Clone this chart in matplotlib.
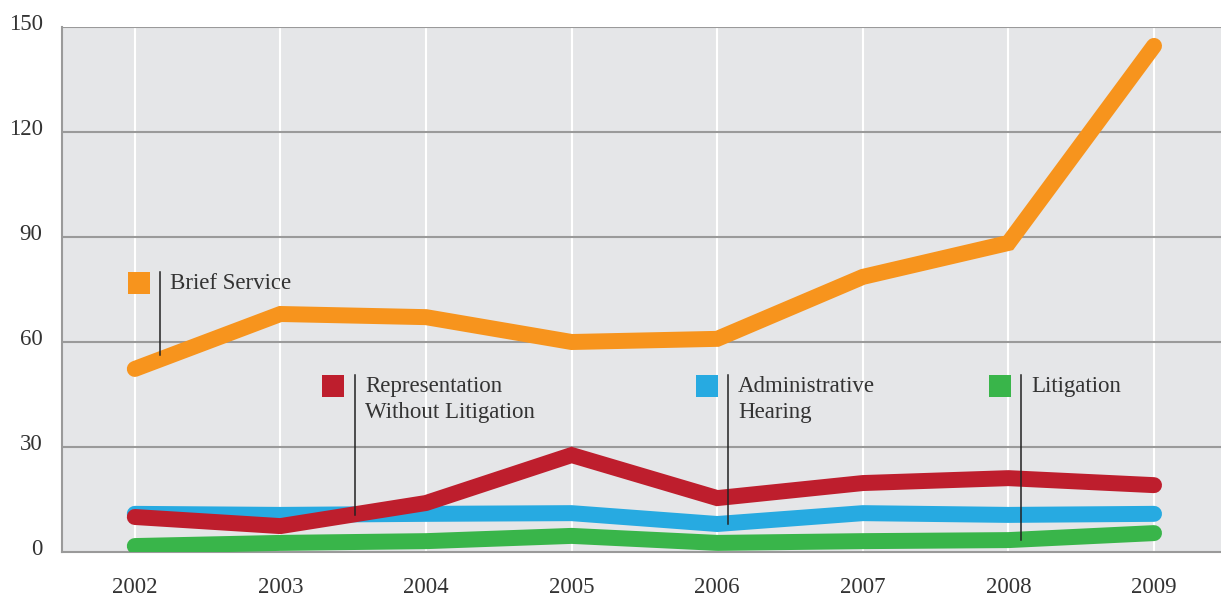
import matplotlib
matplotlib.use("Agg")
import matplotlib.pyplot as plt
import matplotlib.transforms as mtransforms

years = [2002, 2003, 2004, 2005, 2006, 2007, 2008, 2009]
brief_service = [52.3, 68.0, 67.1, 60.0, 60.9, 78.6, 88.3, 144.6]
representation = [10.0, 7.4, 14.0, 27.7, 15.4, 19.7, 21.1, 19.1]
administrative = [10.9, 10.6, 10.9, 11.1, 8.0, 11.1, 10.6, 10.9]
litigation = [1.7, 2.6, 3.1, 4.6, 2.6, 3.1, 3.4, 5.4]
y_ticks = [0, 30, 60, 90, 120, 150]

series_names = ["Brief Service", "Representation\nWithout Litigation",
                "Administrative\nHearing", "Litigation"]
colors = {"Brief Service": "#f7941d",
          "Representation\nWithout Litigation": "#be1e2d",
          "Administrative\nHearing": "#27aae1",
          "Litigation": "#39b54a"}

plt.rcParams['font.family'] = ['Liberation Serif', 'DejaVu Serif']
text_color = "#333333"

fig = plt.figure(figsize=(12.21, 5.96), dpi=100)
ax = fig.add_axes([62/1221, 44/596, 1 - 62/1221, 525/596])
ax.set_facecolor("#e5e6e8")

ax.set_xlim(2001.5, 2009.46)
ax.set_ylim(0, 150)

# grid
for yv in y_ticks[1:]:
    ax.axhline(yv, color="#9a9a9a", lw=1.5, zorder=1)
for xv in years:
    ax.axvline(xv, color="white", lw=1.5, zorder=0.5)

lw = 11.5
ax.plot(years, litigation, color=colors["Litigation"], lw=lw,
        solid_capstyle="round", solid_joinstyle="miter", zorder=3)
ax.plot(years, administrative, color=colors["Administrative\nHearing"], lw=lw,
        solid_capstyle="round", solid_joinstyle="miter", zorder=3.1)
ax.plot(years, representation, color=colors["Representation\nWithout Litigation"], lw=lw,
        solid_capstyle="round", solid_joinstyle="miter", zorder=3.2)
ax.plot(years, brief_service, color=colors["Brief Service"], lw=lw,
        solid_capstyle="round", solid_joinstyle="miter", zorder=3.3)

# annotations: (square x px, top y px, leader x px, leader bottom y px)
ann = [
    ("Brief Service", 128, 272, 160, 355),
    ("Representation\nWithout Litigation", 322, 375, 355, 515),
    ("Administrative\nHearing", 696, 375, 728, 524),
    ("Litigation", 989, 375, 1021, 540),
]

def dx(px):
    return 2002 + (px - 135) / 145.6

def dy(py):
    return (552 - py) / 3.5

for name, sx, sy, lx, ly in ann:
    ax.add_patch(plt.Rectangle((dx(sx), dy(sy + 22)), 22 / 145.6, 22 / 3.5,
                               color=colors[name], zorder=5, lw=0))
    ax.plot([dx(lx), dx(lx)], [dy(sy), dy(ly)], color="#222222", lw=1.1, zorder=6)
    ax.text(dx(lx + 10), dy(sy + 1), name, ha="left", va="top", fontsize=16.5,
            color=text_color, linespacing=1.3, zorder=6)

for s in ["top", "right"]:
    ax.spines[s].set_visible(False)
for s in ["left", "bottom"]:
    ax.spines[s].set_color("#9a9a9a")
    ax.spines[s].set_linewidth(1.5)

ax.set_xticks(years)
ax.set_xticklabels([str(y) for y in years])
ax.set_yticks(y_ticks)
ax.set_yticklabels([str(y) for y in y_ticks])
ax.tick_params(axis="both", length=0, labelsize=16.5, colors=text_color)
ax.tick_params(axis="x", pad=18)
ax.tick_params(axis="y", pad=14)

offset = mtransforms.ScaledTranslation(0, 5 / 100, fig.dpi_scale_trans)
for lbl in ax.get_yticklabels():
    lbl.set_transform(lbl.get_transform() + offset)

fig.savefig("out.png", dpi=100)
